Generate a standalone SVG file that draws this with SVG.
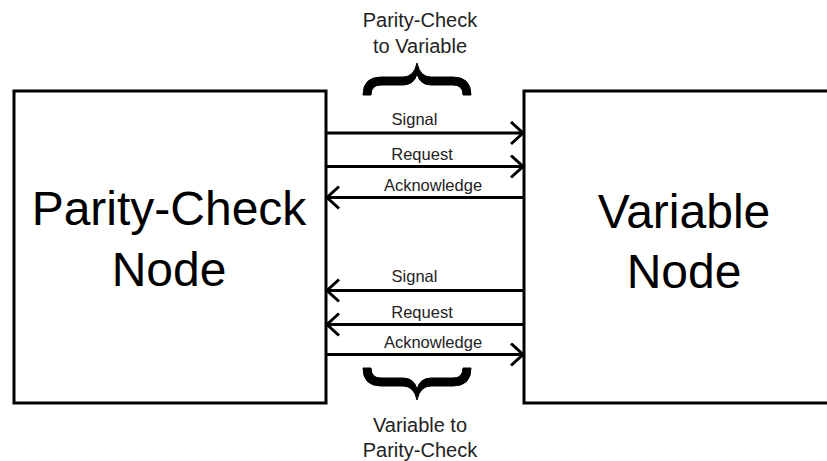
<svg xmlns="http://www.w3.org/2000/svg" width="827" height="461" viewBox="0 0 827 461">
<style>
.box{fill:#fff;stroke:#000;stroke-width:3}
.big{font-family:"Liberation Sans",Arial,sans-serif;font-size:48px;fill:#000;text-anchor:middle}
.lbl{font-family:"Liberation Sans",Arial,sans-serif;font-size:16.5px;fill:#222;text-anchor:middle}
.ttl{font-family:"Liberation Sans",Arial,sans-serif;font-size:20px;fill:#222;text-anchor:middle}
.ln{stroke:#000;stroke-width:3;fill:none;marker-end:url(#arr)}
.brace{fill:#000;stroke:#000;stroke-width:1;stroke-linejoin:round}
</style>
<defs>
<marker id="arr" markerUnits="userSpaceOnUse" markerWidth="16" markerHeight="26" refX="13" refY="12" orient="auto" viewBox="0 0 16 26">
<path d="M1,1 L13,12 L1,23" fill="none" stroke="#000" stroke-width="3"/>
</marker>
<path id="brc" d="M363,95 Q363,77 381,77 L403,77 Q414,77 417,63 Q420,77 431,77 L453,77 Q471,77 471,95 L463,95 Q463,85 453,85 L431,85 Q420,85 417,74 Q414,85 403,85 L381,85 Q371,85 371,95 Z"/>
</defs>
<rect width="827" height="461" fill="#fff"/>
<g id="parity-check-node">
<rect class="box" x="14" y="91" width="312" height="312"/>
<text class="big" x="169" y="225">Parity-Check</text>
<text class="big" x="169" y="286">Node</text>
</g>
<g id="variable-node">
<rect class="box" x="524" y="91" width="320" height="312"/>
<text class="big" x="684" y="228">Variable</text>
<text class="big" x="684" y="288">Node</text>
</g>
<g id="connectors">
<line class="ln" x1="327" y1="133" x2="523" y2="133"/>
<line class="ln" x1="327" y1="166.5" x2="523" y2="166.5"/>
<line class="ln" x1="523" y1="197.5" x2="327" y2="197.5"/>
<line class="ln" x1="523" y1="290.5" x2="327" y2="290.5"/>
<line class="ln" x1="523" y1="324.5" x2="327" y2="324.5"/>
<line class="ln" x1="327" y1="354.5" x2="523" y2="354.5"/>
</g>
<g id="labels">
<text class="lbl" x="414.5" y="125">Signal</text>
<text class="lbl" x="422" y="160">Request</text>
<text class="lbl" x="433" y="191">Acknowledge</text>
<text class="lbl" x="414.5" y="282">Signal</text>
<text class="lbl" x="422" y="317.5">Request</text>
<text class="lbl" x="433" y="348">Acknowledge</text>
</g>
<g id="group-top">
<use href="#brc" class="brace"/>
<text class="ttl" x="420" y="27">Parity-Check</text>
<text class="ttl" x="420" y="53">to Variable</text>
</g>
<g id="group-bottom">
<use href="#brc" class="brace" transform="translate(0,463) scale(1,-1)"/>
<text class="ttl" x="420" y="432">Variable to</text>
<text class="ttl" x="420" y="457">Parity-Check</text>
</g>
</svg>
